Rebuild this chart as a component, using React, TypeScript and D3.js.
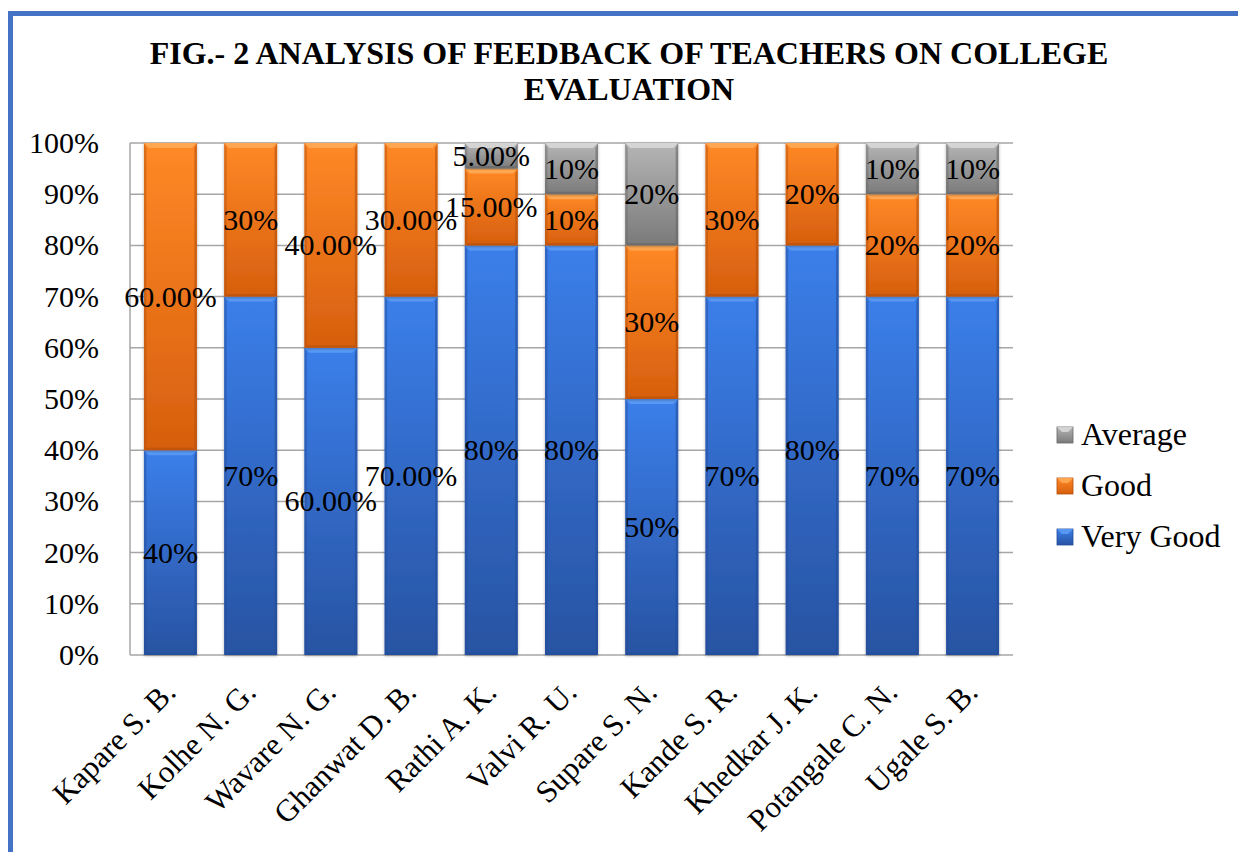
import React from 'react';
import * as d3 from 'd3';

// teachers on the x axis
const teachers = [
  'Kapare S. B.', 'Kolhe N. G.', 'Wavare N. G.', 'Ghanwat D. B.', 'Rathi A. K.',
  'Valvi R. U.', 'Supare S. N.', 'Kande S. R.', 'Khedkar J. K.', 'Potangale C. N.', 'Ugale S. B.',
];

// share of each rating per teacher
const veryGood = [0.4, 0.7, 0.6, 0.7, 0.8, 0.8, 0.5, 0.7, 0.8, 0.7, 0.7];
const good = [0.6, 0.3, 0.4, 0.3, 0.15, 0.1, 0.3, 0.3, 0.2, 0.2, 0.2];
const average = [0, 0, 0, 0, 0.05, 0.1, 0.2, 0, 0, 0.1, 0.1];

// data labels as printed on the chart (formats differ per point)
const veryGoodLabels = ['40%', '70%', '60.00%', '70.00%', '80%', '80%', '50%', '70%', '80%', '70%', '70%'];
const goodLabels = ['60.00%', '30%', '40.00%', '30.00%', '15.00%', '10%', '30%', '30%', '20%', '20%', '20%'];
const averageLabels = ['', '', '', '', '5.00%', '10%', '20%', '', '', '10%', '10%'];

const yTicks = [0, 0.1, 0.2, 0.3, 0.4, 0.5, 0.6, 0.7, 0.8, 0.9, 1];

const W = 1238, H = 852;
const margin = { left: 130, right: 1013, top: 143, bottom: 655 };
const font = 'Liberation Serif';

// series, bottom to top
const series = [
  { key: 'Very Good', values: veryGood, labels: veryGoodLabels, top: '#3b7fea', bot: '#2853a2', hi: '#5e9ef8', edge: '#234c98' },
  { key: 'Good', values: good, labels: goodLabels, top: '#ff8826', bot: '#d65f0e', hi: '#ffac58', edge: '#b44e0a' },
  { key: 'Average', values: average, labels: averageLabels, top: '#b5b5b5', bot: '#7a7a7a', hi: '#dadada', edge: '#666' },
];

const pts = (p: number[][]) => p.map((q) => q.join(',')).join(' ');

const App = () => {
  const x = d3.scaleBand<string>().domain(teachers)
    .range([margin.left, margin.right]).paddingInner(0.34).paddingOuter(0.174);
  const y = d3.scaleLinear().domain([0, 1]).range([margin.bottom, margin.top]);
  const bw = x.bandwidth();

  // stacked segments, built from the series arrays
  const segs: any[] = [];
  teachers.forEach((name, i) => {
    let base = 0;
    series.forEach((s, si) => {
      const v = s.values[i];
      if (v <= 0) return;
      segs.push({ name, si, x0: x(name)!, y0: y(base + v), y1: y(base), label: s.labels[i], s });
      base += v;
    });
  });

  return (
    <div>
      <style>{'body{margin:0}'}</style>
      <svg width={W} height={H} style={{ display: 'block' }}>
        <defs>
          {series.map((s, i) => (
            <linearGradient key={i} id={'grad' + i} x1="0" y1="0" x2="0" y2="1">
              <stop offset="0%" stopColor={s.top} />
              <stop offset="100%" stopColor={s.bot} />
            </linearGradient>
          ))}
          <filter id="shadow" x="-20%" y="-5%" width="140%" height="110%">
            <feDropShadow dx="0" dy="1" stdDeviation="1.6" floodColor="#000" floodOpacity="0.3" />
          </filter>
        </defs>

        {/* frame */}
        <rect x={0} y={0} width={W} height={H} fill="#fff" />
        <line x1={8} x2={W} y1={13.5} y2={13.5} stroke="#4472c4" strokeWidth={5} />
        <line x1={10.5} x2={10.5} y1={11} y2={H} stroke="#4472c4" strokeWidth={5} />

        {/* title */}
        <text textAnchor="middle" fontFamily={font} fontWeight="bold" fontSize={32}>
          <tspan x={629} y={64}>FIG.- 2 ANALYSIS OF FEEDBACK OF TEACHERS ON COLLEGE</tspan>
          <tspan x={629} y={100}>EVALUATION</tspan>
        </text>

        {/* gridlines */}
        {yTicks.map((t) => (
          <line key={t} x1={margin.left} x2={margin.right} y1={y(t)} y2={y(t)} stroke="#a6a6a6" strokeWidth={1.5} />
        ))}
        <line x1={margin.left} x2={margin.left} y1={margin.top} y2={margin.bottom} stroke="#a6a6a6" strokeWidth={1.5} />

        {/* y tick labels */}
        {yTicks.map((t) => (
          <text key={t} x={99} y={y(t) + 10} textAnchor="end" fontFamily={font} fontSize={30}>
            {d3.format('.0%')(t)}
          </text>
        ))}

        {/* bars */}
        {segs.map((d, k) => {
          const { x0, y0, y1, s, si } = d;
          const h = y1 - y0;
          const b = Math.min(5, h / 3);
          return (
            <g key={k}>
              <rect x={x0} y={y0} width={bw} height={h} fill={`url(#grad${si})`} filter="url(#shadow)" />
              <polygon points={pts([[x0, y0], [x0 + bw, y0], [x0 + bw - b, y0 + b], [x0 + b, y0 + b]])} fill={s.hi} opacity={0.85} />
              <polygon points={pts([[x0, y0], [x0 + b * 0.5, y0 + b], [x0 + b * 0.5, y1 - b * 0.5], [x0, y1]])} fill={s.edge} opacity={0.45} />
              <polygon points={pts([[x0 + bw, y0], [x0 + bw - b * 0.5, y0 + b], [x0 + bw - b * 0.5, y1 - b * 0.5], [x0 + bw, y1]])} fill={s.edge} opacity={0.6} />
              <polygon points={pts([[x0, y1], [x0 + b * 0.5, y1 - b * 0.5], [x0 + bw - b * 0.5, y1 - b * 0.5], [x0 + bw, y1]])} fill={s.edge} opacity={0.6} />
            </g>
          );
        })}

        {/* data labels */}
        {segs.filter((d) => d.label).map((d, k) => (
          <text key={k} x={d.x0 + bw / 2} y={(d.y0 + d.y1) / 2 + 10} textAnchor="middle" fontFamily={font} fontSize={30}>
            {d.label}
          </text>
        ))}

        {/* x labels, rotated */}
        {teachers.map((t) => (
          <text key={t} transform={`translate(${x(t)! + bw / 2 + 7},${margin.bottom + 39}) rotate(-45)`}
            textAnchor="end" fontFamily={font} fontSize={31}>
            {t}
          </text>
        ))}

        {/* legend, top entry is the last series */}
        {[...series].reverse().map((s, i) => {
          const cy = 435 + i * 51;
          const si = series.indexOf(s);
          return (
            <g key={s.key}>
              <rect x={1057} y={cy - 8} width={16} height={16} fill={`url(#grad${si})`} stroke={s.edge} strokeWidth={0.8} />
              <polygon points={`1057,${cy - 8} 1073,${cy - 8} 1068,${cy - 3} 1062,${cy - 3}`} fill={s.hi} opacity={0.85} />
              <text x={1081} y={cy + 10} fontFamily={font} fontSize={32}>{s.key}</text>
            </g>
          );
        })}
      </svg>
    </div>
  );
};

export default App;
